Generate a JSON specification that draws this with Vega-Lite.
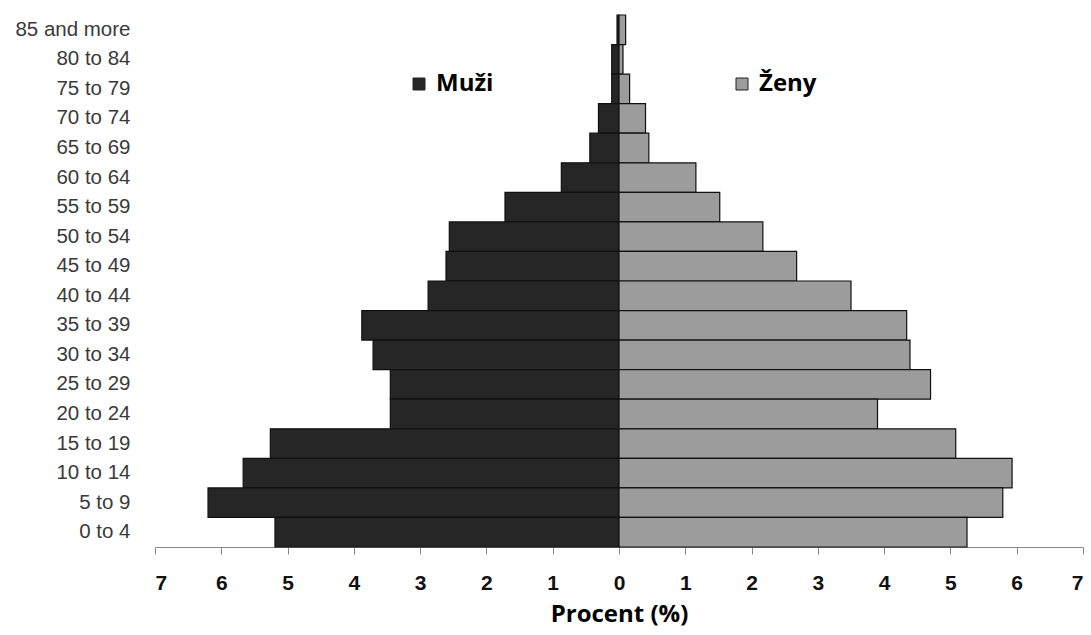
{
  "$schema": "https://vega.github.io/schema/vega-lite/v6.json",
  "autosize": "none",
  "width": 928,
  "height": 532,
  "padding": {"left": 155, "top": 15, "right": 8, "bottom": 88},
  "background": "white",
  "config": {"view": {"stroke": null}},
  "data": {
    "values": [
      {"age": "85 and more", "sex": "Muži", "value": -0.03},
      {"age": "80 to 84", "sex": "Muži", "value": -0.11},
      {"age": "75 to 79", "sex": "Muži", "value": -0.11},
      {"age": "70 to 74", "sex": "Muži", "value": -0.31},
      {"age": "65 to 69", "sex": "Muži", "value": -0.44},
      {"age": "60 to 64", "sex": "Muži", "value": -0.87},
      {"age": "55 to 59", "sex": "Muži", "value": -1.72},
      {"age": "50 to 54", "sex": "Muži", "value": -2.56},
      {"age": "45 to 49", "sex": "Muži", "value": -2.61},
      {"age": "40 to 44", "sex": "Muži", "value": -2.88},
      {"age": "35 to 39", "sex": "Muži", "value": -3.88},
      {"age": "30 to 34", "sex": "Muži", "value": -3.71},
      {"age": "25 to 29", "sex": "Muži", "value": -3.45},
      {"age": "20 to 24", "sex": "Muži", "value": -3.45},
      {"age": "15 to 19", "sex": "Muži", "value": -5.26},
      {"age": "10 to 14", "sex": "Muži", "value": -5.67},
      {"age": "5 to 9", "sex": "Muži", "value": -6.2},
      {"age": "0 to 4", "sex": "Muži", "value": -5.19},
      {"age": "85 and more", "sex": "Ženy", "value": 0.1},
      {"age": "80 to 84", "sex": "Ženy", "value": 0.06},
      {"age": "75 to 79", "sex": "Ženy", "value": 0.16},
      {"age": "70 to 74", "sex": "Ženy", "value": 0.4},
      {"age": "65 to 69", "sex": "Ženy", "value": 0.45},
      {"age": "60 to 64", "sex": "Ženy", "value": 1.16},
      {"age": "55 to 59", "sex": "Ženy", "value": 1.52},
      {"age": "50 to 54", "sex": "Ženy", "value": 2.17},
      {"age": "45 to 49", "sex": "Ženy", "value": 2.68},
      {"age": "40 to 44", "sex": "Ženy", "value": 3.5},
      {"age": "35 to 39", "sex": "Ženy", "value": 4.34},
      {"age": "30 to 34", "sex": "Ženy", "value": 4.39},
      {"age": "25 to 29", "sex": "Ženy", "value": 4.7},
      {"age": "20 to 24", "sex": "Ženy", "value": 3.9},
      {"age": "15 to 19", "sex": "Ženy", "value": 5.08},
      {"age": "10 to 14", "sex": "Ženy", "value": 5.93},
      {"age": "5 to 9", "sex": "Ženy", "value": 5.79},
      {"age": "0 to 4", "sex": "Ženy", "value": 5.25}
    ]
  },
  "mark": {"type": "bar", "stroke": "#111111", "strokeWidth": 1.2},
  "encoding": {
    "y": {
      "field": "age",
      "type": "nominal",
      "sort": ["85 and more", "80 to 84", "75 to 79", "70 to 74", "65 to 69", "60 to 64", "55 to 59", "50 to 54", "45 to 49", "40 to 44", "35 to 39", "30 to 34", "25 to 29", "20 to 24", "15 to 19", "10 to 14", "5 to 9", "0 to 4"],
      "scale": {"paddingInner": 0, "paddingOuter": 0},
      "axis": {
        "title": null,
        "domain": false,
        "ticks": false,
        "labelPadding": 25,
        "labelFont": "Liberation Sans",
        "labelFontSize": 20.5,
        "labelColor": "#3a3a3a"
      }
    },
    "x": {
      "field": "value",
      "type": "quantitative",
      "scale": {"domain": [-7, 7], "nice": false, "zero": false},
      "axis": {
        "values": [-7, -6, -5, -4, -3, -2, -1, 0, 1, 2, 3, 4, 5, 6, 7],
        "labelExpr": "abs(datum.value)",
        "grid": false,
        "domainColor": "#8a8a8a",
        "tickColor": "#8a8a8a",
        "tickSize": 7,
        "labelPadding": 18,
        "labelFont": "Liberation Sans",
        "labelFontWeight": "bold",
        "labelFontSize": 21,
        "labelColor": "#111111",
        "title": "Procent (%)",
        "titleFont": "Open Sans",
        "titleFontWeight": "bold",
        "titleFontSize": 24,
        "titleColor": "#000000",
        "titlePadding": 9
      }
    },
    "color": {
      "field": "sex",
      "type": "nominal",
      "scale": {"domain": ["Muži", "Ženy"], "range": ["#262626", "#9c9c9c"]},
      "legend": {
        "title": null,
        "orient": "none",
        "legendX": 252,
        "legendY": 57,
        "direction": "horizontal",
        "columnPadding": 236,
        "symbolType": "square",
        "symbolSize": 144,
        "symbolStrokeColor": "#222222",
        "symbolStrokeWidth": 1,
        "symbolOpacity": 1,
        "labelFont": "Open Sans",
        "labelFontWeight": "bold",
        "labelFontSize": 24,
        "labelColor": "#000000",
        "labelOffset": 5
      }
    }
  }
}
